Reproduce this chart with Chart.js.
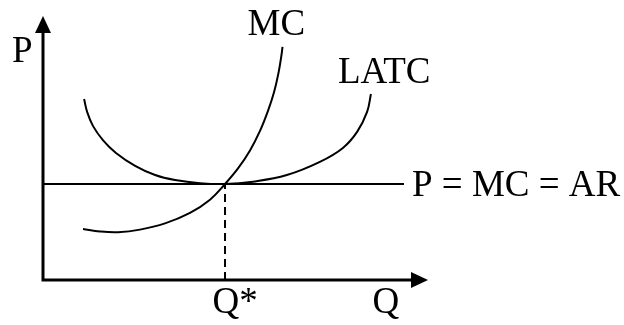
<!DOCTYPE html>
<html>
<head>
<meta charset="utf-8">
<script src="https://cdn.jsdelivr.net/npm/chart.js@4/dist/chart.umd.min.js"></script>
<style>
    html, body { margin: 0; padding: 0; background: #ffffff; }
    #wrap { width: 624px; height: 325px; }
</style>
</head>
<body>
<div id="wrap"><canvas id="chart" width="624" height="325"></canvas></div>
<script>
// equilibrium point
const qStar = 47.4;
const price = 36.5;

// marginal cost curve (Q, cost)
const mcQ = [10.42, 14.84, 19.53, 25.26, 31.77, 38.28, 43.49, 47.4, 50.78, 53.91, 56.51, 58.59, 60.16, 61.33, 62.11, 62.37];
const mcC = [19.39, 18.44, 18.17, 19.16, 21.54, 25.53, 30.55, 36.5, 42.43, 49.28, 56.69, 64.3, 71.37, 78.75, 85.59, 88.63];

// long-run average total cost curve
const latcQ = [10.7, 11.5, 13.0, 15.6, 19.0, 24.0, 29.2, 34.4, 40.9, 47.4, 54.7, 63.5, 72.1, 78.1, 81.8, 84.4, 85.4];
const latcC = [68.8, 63.9, 58.6, 53.2, 48.3, 43.4, 39.9, 38.0, 36.8, 36.5, 37.4, 39.9, 44.9, 50.2, 56.3, 63.9, 70.7];

// price line end, axis length and the Q label position
const priceLineEnd = 94.0;
const axisMax = 100;
const qLabelAt = 89.3;

const labels = {
    yAxis: 'P',
    xAxis: 'Q',
    qStar: 'Q*',
    mc: 'MC',
    latc: 'LATC',
    priceLine: 'P = MC = AR'
};

const toPoints = (xs, ys) => xs.map((x, i) => ({ x, y: ys[i] }));

const font = '37px "Liberation Serif", "Times New Roman", serif';

// axes with arrow heads and the text labels
const annotations = {
    id: 'annotations',
    afterDatasetsDraw(chart) {
        const { ctx, scales: { x, y } } = chart;
        const x0 = x.getPixelForValue(0);
        const y0 = y.getPixelForValue(0);
        const xEnd = x.getPixelForValue(axisMax);
        const yEnd = y.getPixelForValue(axisMax);

        ctx.save();
        ctx.strokeStyle = '#000';
        ctx.fillStyle = '#000';
        ctx.lineWidth = 3;
        ctx.beginPath();
        ctx.moveTo(x0, yEnd + 12);
        ctx.lineTo(x0, y0);
        ctx.lineTo(xEnd - 12, y0);
        ctx.stroke();

        // arrow heads
        ctx.beginPath();
        ctx.moveTo(x0, yEnd - 1);
        ctx.lineTo(x0 - 8, yEnd + 16);
        ctx.lineTo(x0 + 8, yEnd + 16);
        ctx.closePath();
        ctx.fill();
        ctx.beginPath();
        ctx.moveTo(xEnd + 1, y0);
        ctx.lineTo(xEnd - 16, y0 - 8);
        ctx.lineTo(xEnd - 16, y0 + 8);
        ctx.closePath();
        ctx.fill();

        ctx.font = font;
        ctx.textBaseline = 'alphabetic';
        ctx.textAlign = 'left';
        ctx.fillText(labels.yAxis, x0 - 31, yEnd + 45);
        ctx.fillText(labels.mc, x.getPixelForValue(mcQ[mcQ.length - 1]) - 35, y.getPixelForValue(mcC[mcC.length - 1]) - 12);
        ctx.fillText(labels.latc, x.getPixelForValue(latcQ[latcQ.length - 1]) - 33, y.getPixelForValue(latcC[latcC.length - 1]) - 11);
        ctx.fillText(labels.priceLine, x.getPixelForValue(priceLineEnd) + 8, y.getPixelForValue(price) + 12);
        ctx.textAlign = 'center';
        ctx.fillText(labels.qStar, x.getPixelForValue(qStar) + 10, y0 + 33);
        ctx.fillText(labels.xAxis, x.getPixelForValue(qLabelAt), y0 + 33);
        ctx.restore();
    }
};

const base = {
    showLine: true,
    borderColor: '#000',
    borderWidth: 2,
    pointRadius: 0,
    fill: false,
    clip: false
};

new Chart(document.getElementById('chart').getContext('2d'), {
    type: 'scatter',
    data: {
        datasets: [
            { ...base, label: labels.priceLine, data: [{ x: 0, y: price }, { x: priceLineEnd, y: price }] },
            { ...base, label: 'Q* guide', borderDash: [8, 5], data: [{ x: qStar, y: 0 }, { x: qStar, y: price }] },
            { ...base, label: labels.mc, tension: 0.4, data: toPoints(mcQ, mcC) },
            { ...base, label: labels.latc, tension: 0.4, data: toPoints(latcQ, latcC) }
        ]
    },
    options: {
        responsive: false,
        animation: false,
        layout: { padding: { left: 43, right: 197, top: 17, bottom: 45 } },
        plugins: {
            legend: { display: false },
            tooltip: { enabled: false },
            title: { display: false }
        },
        scales: {
            x: { type: 'linear', min: 0, max: axisMax, display: false },
            y: { type: 'linear', min: 0, max: axisMax, display: false }
        }
    },
    plugins: [annotations]
});
</script>
</body>
</html>
